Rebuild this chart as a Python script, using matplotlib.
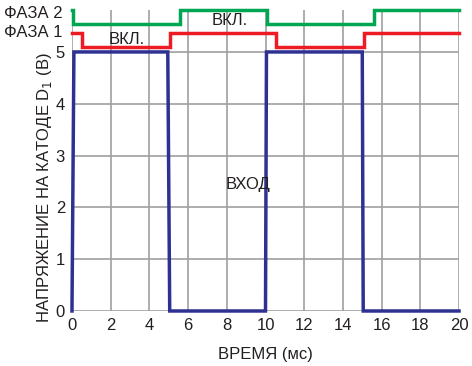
import matplotlib.pyplot as plt

plt.rcParams['font.family'] = ['Liberation Sans', 'DejaVu Sans']

# входной сигнал
t_in = [0, 0.1, 4.95, 5.05, 10.0, 10.05, 15.0, 15.05, 20]
v_in = [0, 5, 5, 0, 0, 5, 5, 0, 0]

# фаза 1 (уровни в координатах оси)
t_ph1 = [0, 0.5, 0.5, 5.05, 5.05, 10.55, 10.55, 15.1, 15.1, 20]
v_ph1 = [5.37, 5.37, 5.10, 5.10, 5.37, 5.37, 5.10, 5.10, 5.37, 5.37]

# фаза 2
t_ph2 = [0, 0.03, 0.03, 5.6, 5.6, 10.1, 10.1, 15.6, 15.6, 20]
v_ph2 = [5.81, 5.81, 5.53, 5.53, 5.81, 5.81, 5.53, 5.53, 5.81, 5.81]

xticks = list(range(0, 21, 2))
yticks = [0, 1, 2, 3, 4, 5]

fig = plt.figure(figsize=(4.72, 3.66), dpi=100)
ax = fig.add_axes([0.1525, 0.1503, 0.82, 0.8224])

ax.plot(t_ph2, v_ph2, color='#00a651', lw=2.5, solid_joinstyle='miter', clip_on=False)
ax.plot(t_ph1, v_ph1, color='#ed1c24', lw=2.5, solid_joinstyle='miter', clip_on=False)
ax.plot(t_in, v_in, color='#2e3192', lw=2.5, solid_joinstyle='miter', clip_on=False)

ax.set_xlim(0, 20)
ax.set_ylim(0, 5.81)
ax.set_xticks(xticks)
ax.set_yticks(yticks)
ax.grid(True, color='#a0a0a0', lw=1.2)
ax.set_axisbelow(True)
for s in ax.spines.values():
    s.set_visible(False)
ax.tick_params(length=0, labelsize=12, colors='#231f20', pad=5)

ax.text(-0.5, 5.75, 'ФАЗА 2', fontsize=12, ha='right', va='center', color='#231f20')
ax.text(-0.5, 5.37, 'ФАЗА 1', fontsize=12, ha='right', va='center', color='#231f20')
ax.text(2.85, 5.24, 'ВКЛ.', fontsize=12, ha='center', va='center', color='#231f20')
ax.text(8.15, 5.6, 'ВКЛ.', fontsize=12, ha='center', va='center', color='#231f20')
ax.text(9.1, 2.45, 'ВХОД', fontsize=12, ha='center', va='center', color='#231f20')

ax.set_xlabel('ВРЕМЯ (мс)', fontsize=12, color='#231f20', labelpad=10)
ax.set_ylabel('НАПРЯЖЕНИЕ НА КАТОДЕ D$_1$ (В)', fontsize=12, color='#231f20')
ax.yaxis.set_label_coords(-0.047, 0.41)

fig.savefig('out.png', dpi=100)
